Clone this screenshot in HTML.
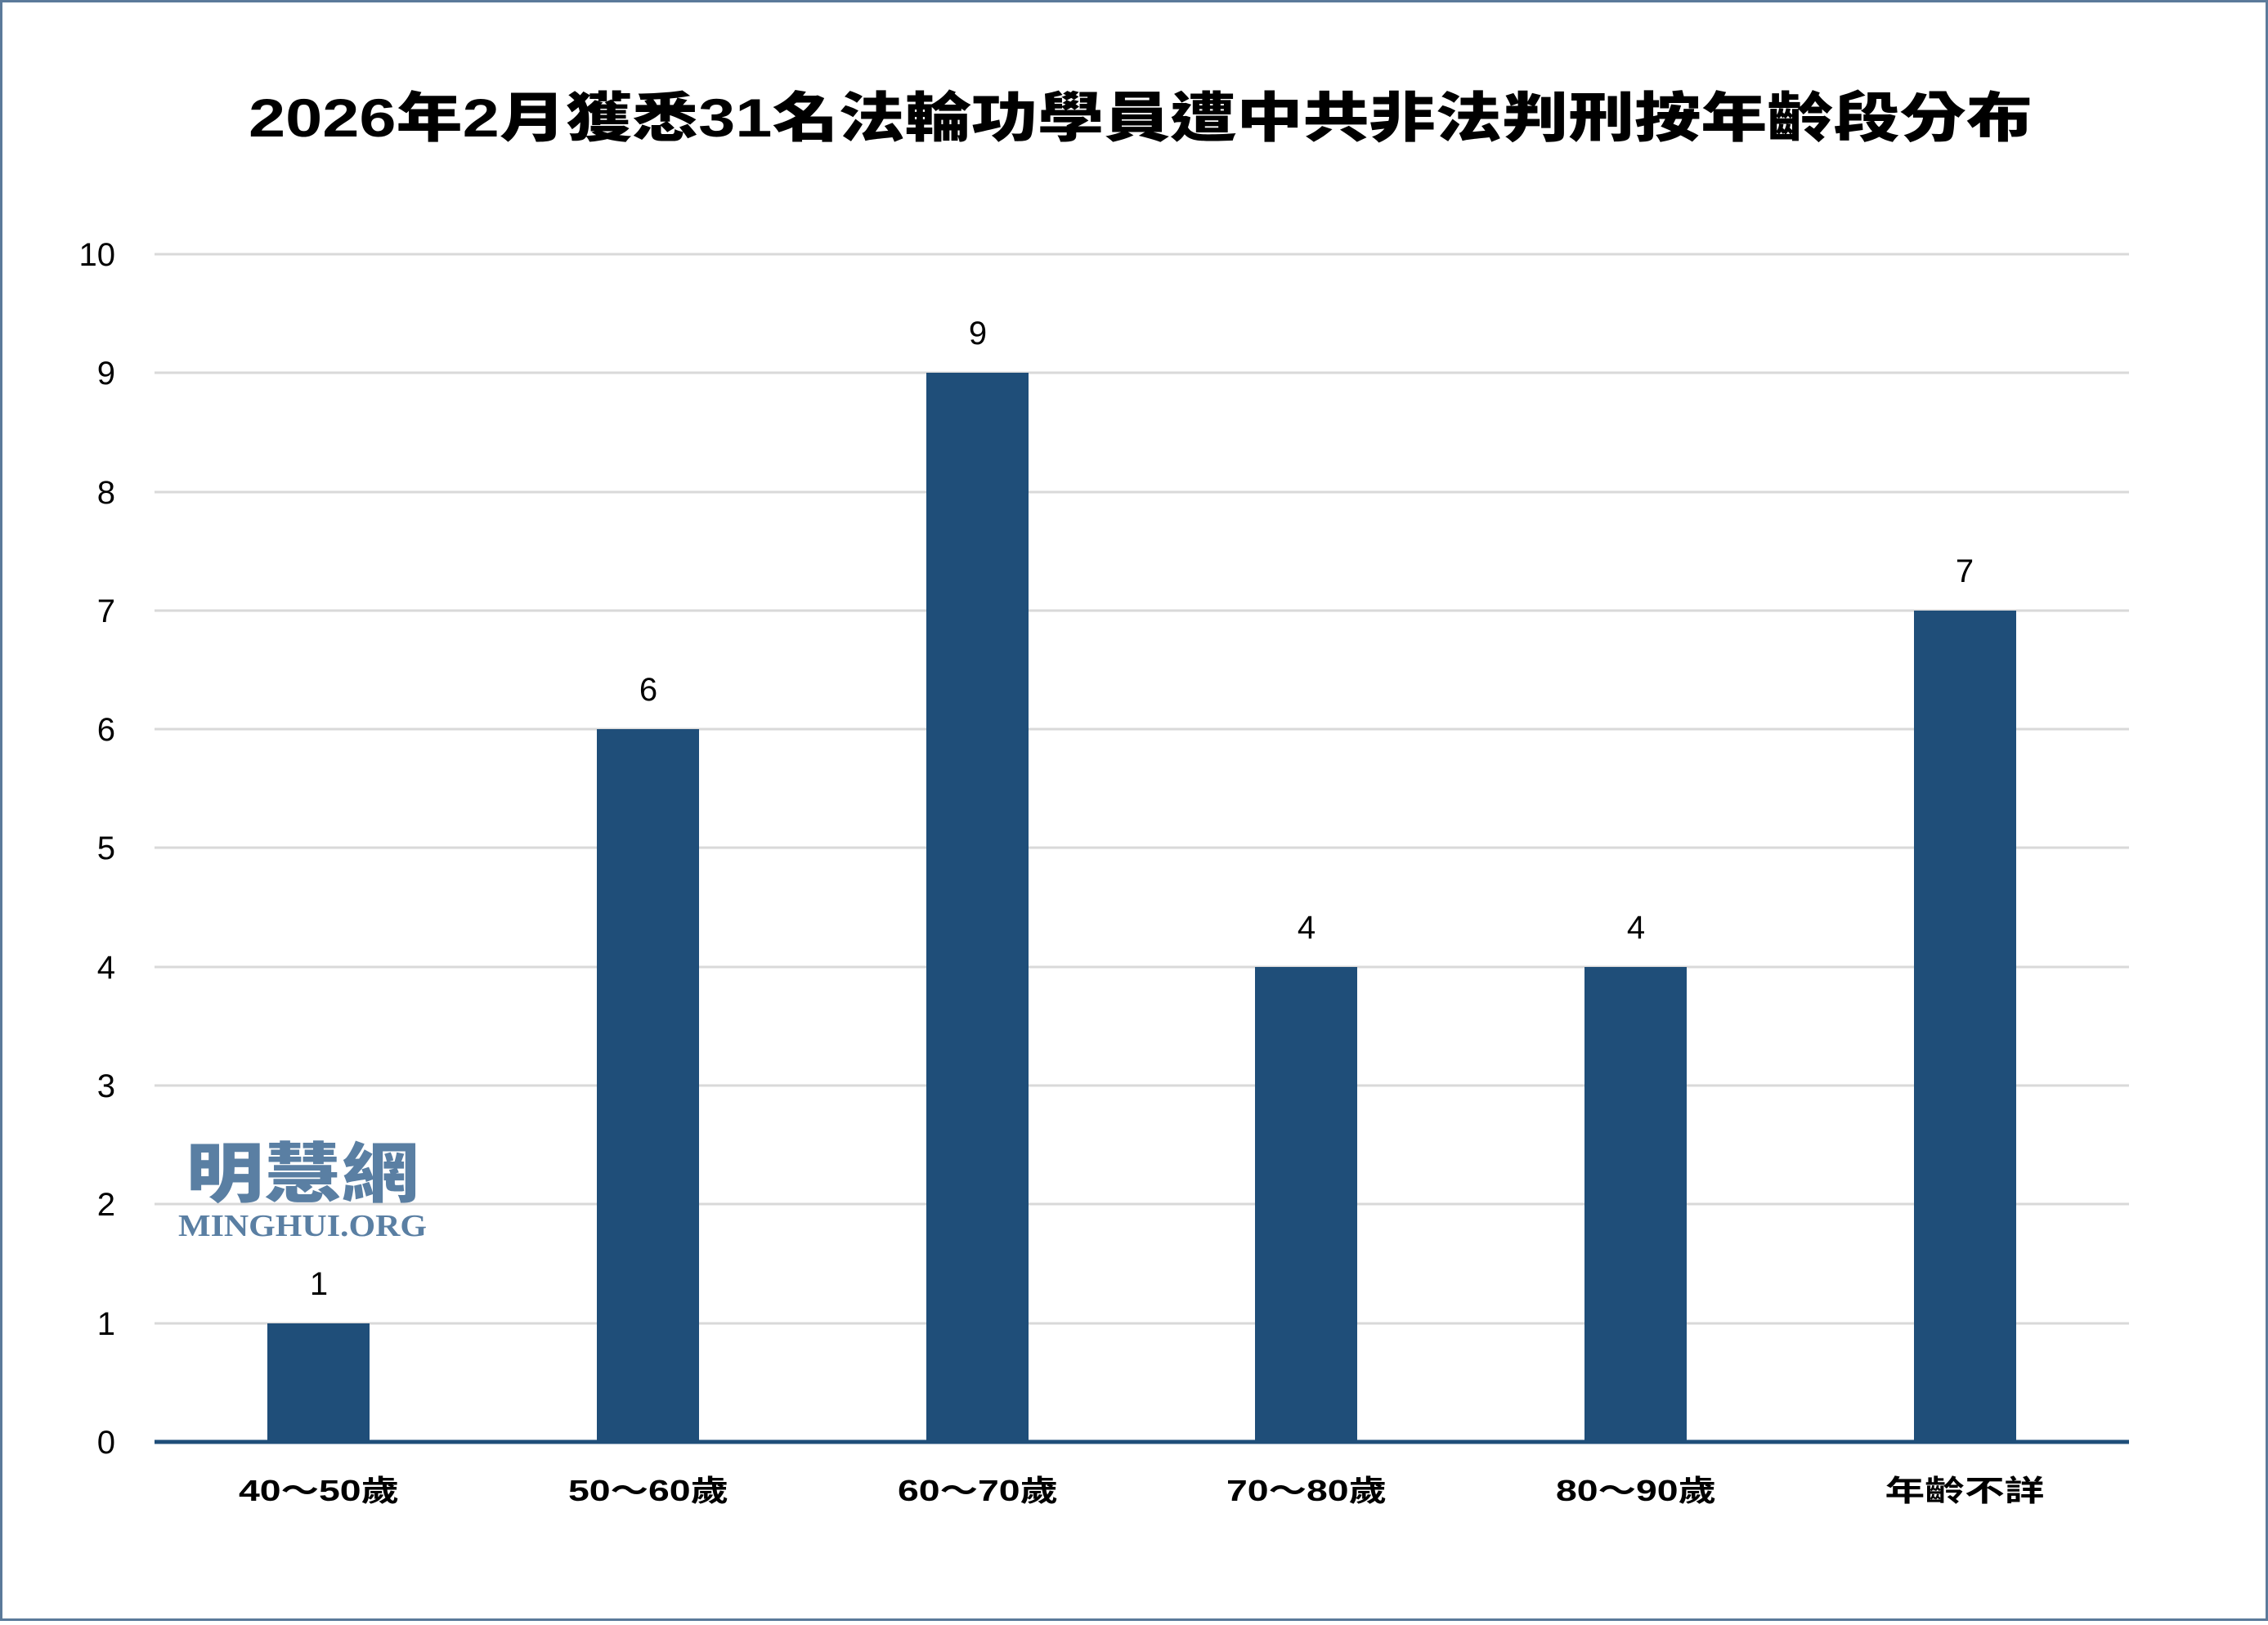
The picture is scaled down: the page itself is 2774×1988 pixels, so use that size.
<!DOCTYPE html>
<html><head><meta charset="utf-8"><style>html,body{margin:0;padding:0;background:#fff}</style></head>
<body>
<svg width="2774" height="1983" viewBox="0 0 2774 1983" xmlns="http://www.w3.org/2000/svg">
<rect x="1.5" y="1.5" width="2771" height="1980" fill="#fff" stroke="#5b7a9a" stroke-width="3"/>
<text x="1395" y="167" text-anchor="middle" font-family="'Liberation Sans','Noto Sans CJK TC',sans-serif" font-weight="900" font-size="66" textLength="2182" lengthAdjust="spacingAndGlyphs" fill="#000">2026年2月獲悉31名法輪功學員遭中共非法判刑按年齡段分布</text>
<g stroke="#d9d9d9" stroke-width="3">
<line x1="189" x2="2604" y1="311" y2="311"/><line x1="189" x2="2604" y1="456" y2="456"/>
<line x1="189" x2="2604" y1="602" y2="602"/><line x1="189" x2="2604" y1="747" y2="747"/>
<line x1="189" x2="2604" y1="892" y2="892"/><line x1="189" x2="2604" y1="1037" y2="1037"/>
<line x1="189" x2="2604" y1="1183" y2="1183"/><line x1="189" x2="2604" y1="1328" y2="1328"/>
<line x1="189" x2="2604" y1="1473" y2="1473"/><line x1="189" x2="2604" y1="1619" y2="1619"/>
</g>
<g font-family="'Liberation Sans',sans-serif" font-size="40" fill="#000" text-anchor="end">
<text x="141" y="325">10</text><text x="141" y="470">9</text><text x="141" y="616">8</text>
<text x="141" y="761">7</text><text x="141" y="906">6</text><text x="141" y="1051">5</text>
<text x="141" y="1197">4</text><text x="141" y="1342">3</text><text x="141" y="1487">2</text>
<text x="141" y="1633">1</text><text x="141" y="1778">0</text>
</g>
<g fill="#1f4e79">
<rect x="327" y="1619" width="125" height="145"/>
<rect x="730" y="892" width="125" height="872"/>
<rect x="1133" y="456" width="125" height="1308"/>
<rect x="1535" y="1183" width="125" height="581"/>
<rect x="1938" y="1183" width="125" height="581"/>
<rect x="2341" y="747" width="125" height="1017"/>
</g>
<line x1="189" x2="2604" y1="1764" y2="1764" stroke="#1f4e79" stroke-width="5"/>
<g font-family="'Liberation Sans',sans-serif" font-size="40" fill="#000" text-anchor="middle">
<text x="390" y="1584">1</text><text x="793" y="857">6</text><text x="1196" y="421">9</text>
<text x="1598" y="1148">4</text><text x="2001" y="1148">4</text><text x="2403" y="712">7</text>
</g>
<g font-family="'Liberation Sans','Noto Sans CJK TC',sans-serif" font-weight="700" font-size="36" fill="#000" text-anchor="middle" lengthAdjust="spacingAndGlyphs">
<text x="390" y="1836" textLength="196" lengthAdjust="spacingAndGlyphs">40～50歲</text>
<text x="793" y="1836" textLength="196" lengthAdjust="spacingAndGlyphs">50～60歲</text>
<text x="1196" y="1836" textLength="196" lengthAdjust="spacingAndGlyphs">60～70歲</text>
<text x="1598" y="1836" textLength="196" lengthAdjust="spacingAndGlyphs">70～80歲</text>
<text x="2001" y="1836" textLength="196" lengthAdjust="spacingAndGlyphs">80～90歲</text>
<text x="2403" y="1836" textLength="195" lengthAdjust="spacingAndGlyphs">年齡不詳</text>
</g>
<text x="370" y="1464" text-anchor="middle" font-family="'Noto Sans CJK TC',sans-serif" font-weight="900" font-size="80" fill="#5a7fa3" textLength="285" lengthAdjust="spacingAndGlyphs">明慧網</text>
<text x="370" y="1512" text-anchor="middle" font-family="'Liberation Serif',serif" font-weight="bold" font-size="38" fill="#5a7fa3" textLength="304" lengthAdjust="spacingAndGlyphs">MINGHUI.ORG</text>
</svg>
</body></html>
